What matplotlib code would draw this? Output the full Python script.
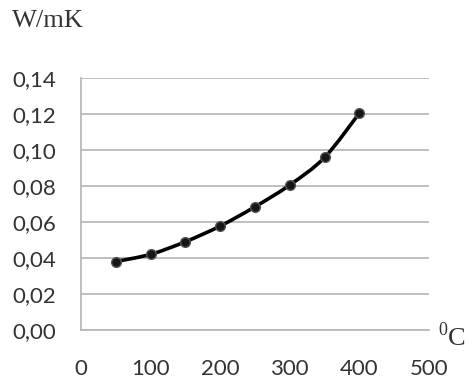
import matplotlib.pyplot as plt
from matplotlib.path import Path
from matplotlib.patches import PathPatch
from matplotlib.ticker import FuncFormatter

# data
temperature = [50, 100, 150, 200, 250, 300, 350, 400]
conductivity = [0.038, 0.042, 0.049, 0.0577, 0.0684, 0.0805, 0.0958, 0.1204]

x_ticks = [0, 100, 200, 300, 400, 500]
y_ticks = [0.00, 0.02, 0.04, 0.06, 0.08, 0.10, 0.12, 0.14]

GRID_COLOR = "#b4b4b4"
TEXT_COLOR = "#333333"


def smooth_path(xs, ys):
    """Bezier path through the points (Excel-style smoothed line)."""
    pts = list(zip(xs, ys))
    verts = [pts[0]]
    codes = [Path.MOVETO]
    for i in range(len(pts) - 1):
        p0 = pts[i - 1] if i > 0 else pts[i]
        p1, p2 = pts[i], pts[i + 1]
        p3 = pts[i + 2] if i + 2 < len(pts) else pts[i + 1]
        c1 = (p1[0] + (p2[0] - p0[0]) / 6, p1[1] + (p2[1] - p0[1]) / 6)
        c2 = (p2[0] - (p3[0] - p1[0]) / 6, p2[1] - (p3[1] - p1[1]) / 6)
        verts += [c1, c2, p2]
        codes += [Path.CURVE4] * 3
    return Path(verts, codes)


fig = plt.figure(figsize=(4.69, 3.83), dpi=100)
ax = fig.add_axes([0.1727, 0.1384, 0.742, 0.6586])

ax.add_patch(PathPatch(smooth_path(temperature, conductivity), facecolor='none',
                       edgecolor='black', linewidth=2.6, capstyle='round', zorder=3))
ax.plot(temperature, conductivity, 'o', color='#161616', markersize=7,
        markeredgecolor='#555555', markeredgewidth=1.0, zorder=4)

ax.set_xlim(0, 500)
ax.set_ylim(0, 0.14)
ax.set_xticks(x_ticks)
ax.set_yticks(y_ticks)
ax.yaxis.set_major_formatter(FuncFormatter(lambda v, p: f"{v:.2f}".replace('.', ',')))

ax.grid(axis='y', color=GRID_COLOR, linewidth=1.2)
ax.set_axisbelow(True)
for side in ('top', 'right'):
    ax.spines[side].set_visible(False)
for side in ('left', 'bottom'):
    ax.spines[side].set_color(GRID_COLOR)
    ax.spines[side].set_linewidth(1.2)

ax.tick_params(axis='both', length=0, labelsize=16, colors=TEXT_COLOR)
ax.tick_params(axis='x', pad=21)
ax.tick_params(axis='y', pad=18)
for lbl in ax.get_xticklabels() + ax.get_yticklabels():
    lbl.set_family('Lato')

fig.text(12 / 469, 1 - 27 / 383, "W/mK", family='Liberation Serif',
         fontsize=19, color=TEXT_COLOR, va='baseline', ha='left')
fig.text(438 / 469, 1 - 335 / 383, "0", family='Liberation Serif',
         fontsize=13, color=TEXT_COLOR, va='baseline', ha='left')
fig.text(448 / 469, 1 - 345 / 383, "C", family='Liberation Serif',
         fontsize=19, color=TEXT_COLOR, va='baseline', ha='left')

fig.savefig("out.png", dpi=100)
